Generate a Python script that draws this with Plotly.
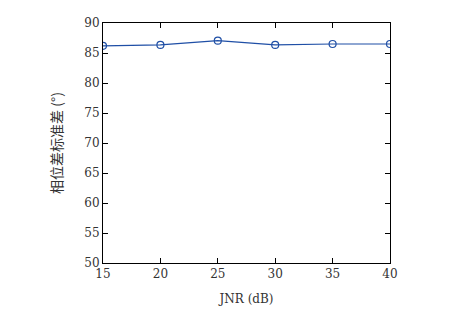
import plotly.graph_objects as go

jnr = [15, 20, 25, 30, 35, 40]
phase_std = [86.2, 86.35, 87.05, 86.35, 86.5, 86.5]
x_ticks = [15, 20, 25, 30, 35, 40]
y_ticks = [50, 55, 60, 65, 70, 75, 80, 85, 90]

SERIF = "DejaVu Serif"

fig = go.Figure()
fig.add_trace(go.Scatter(
    x=jnr, y=phase_std, mode="lines+markers",
    line=dict(color="#1f4fa6", width=1.2),
    marker=dict(symbol="circle-open", size=7, color="#1f4fa6", line=dict(width=1.2)),
    showlegend=False,
))

axis_common = dict(
    showgrid=False, zeroline=False, showline=True, linecolor="black", linewidth=1,
    mirror="ticks", ticks="inside", ticklen=5, tickcolor="black",
    tickfont=dict(family=SERIF, size=12, color="#333"),
)
fig.update_xaxes(range=[15, 40], tickvals=x_ticks,
                 title=dict(text="JNR (dB)", font=dict(family=SERIF, size=12, color="#333"), standoff=14),
                 **axis_common)
fig.update_yaxes(range=[50, 90], tickvals=y_ticks,
                 title=dict(text="相位差标准差 (°)", font=dict(family="Noto Sans CJK SC", size=14, color="#333"), standoff=18),
                 **axis_common)
fig.update_layout(
    width=469, height=323,
    margin=dict(l=103, r=79, t=23, b=60),
    paper_bgcolor="white", plot_bgcolor="white",
    font=dict(family=SERIF),
)
fig.write_html("out.html")
